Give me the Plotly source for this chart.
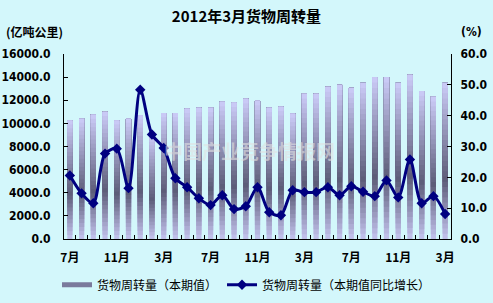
import plotly.graph_objects as go

# ---- data ----
months = ["2009-07", "2009-08", "2009-09", "2009-10", "2009-11", "2009-12",
          "2010-01", "2010-02", "2010-03", "2010-04", "2010-05", "2010-06",
          "2010-07", "2010-08", "2010-09", "2010-10", "2010-11", "2010-12",
          "2011-01", "2011-02", "2011-03", "2011-04", "2011-05", "2011-06",
          "2011-07", "2011-08", "2011-09", "2011-10", "2011-11", "2011-12",
          "2012-01", "2012-02", "2012-03"]
tick_labels = {"2009-07": "7月", "2009-11": "11月", "2010-03": "3月",
               "2010-07": "7月", "2010-11": "11月", "2011-03": "3月",
               "2011-07": "7月", "2011-11": "11月", "2012-03": "3月"}
turnover = [10250, 10400, 10750, 11000, 10250, 10400, 10700, 9000, 10900,
            10900, 11270, 11350, 11350, 11870, 11800, 12130, 11960, 11350,
            11440, 10840, 12560, 12560, 13160, 13330, 13070, 13500, 14000,
            14000, 13500, 14200, 12800, 12300, 13500]
growth = [20.6, 14.8, 11.6, 27.7, 29.3, 16.5, 48.4, 33.9, 29.5, 19.7, 16.8,
          13.2, 11.0, 14.2, 9.7, 10.6, 16.8, 8.7, 7.7, 15.8, 15.2, 15.2, 16.8,
          14.2, 17.1, 15.3, 13.9, 19.0, 13.5, 25.8, 11.6, 13.9, 8.1]

title = "2012年3月货物周转量"
bar_name = "货物周转量（本期值）"
line_name = "货物周转量（本期值同比增长）"

# ---- gradient for bars ----
stops = [(0.0, (196, 196, 238)), (0.38, (92, 92, 120)), (1.0, (204, 204, 248))]

def grad(t):
    for (t0, c0), (t1, c1) in zip(stops[:-1], stops[1:]):
        if t0 <= t <= t1:
            f = (t - t0) / (t1 - t0)
            return "rgb(%d,%d,%d)" % tuple(round(a + (b - a) * f) for a, b in zip(c0, c1))
    return "rgb(%d,%d,%d)" % stops[-1][1]

fig = go.Figure()
N = 30
for k in range(N):
    # each segment reaches the bar top, later ones overlay earlier ones -> no seams
    fig.add_trace(go.Bar(
        x=months, y=[v * (1 - k / N) for v in turnover], base=[v * k / N for v in turnover],
        marker=dict(color=grad((k + 0.5) / N), line=dict(width=0)),
        width=0.44, showlegend=False, hoverinfo="skip"))

# legend proxy for bars
fig.add_trace(go.Scatter(x=[None], y=[None], mode="lines", name=bar_name,
                         line=dict(color="#7a7a9c", width=5)))

fig.add_trace(go.Scatter(
    x=months, y=growth, yaxis="y2", name=line_name, mode="lines+markers",
    line=dict(color="#000080", width=3, shape="spline", smoothing=0.8),
    marker=dict(symbol="diamond", size=8, color="#000080")))

tick_font = dict(family="DejaVu Sans Condensed, Liberation Sans Narrow, Arial",
                 size=12, color="black", weight="bold")

fig.update_layout(
    width=493, height=303,
    margin=dict(l=64, r=42, t=54, b=64, autoexpand=False),
    paper_bgcolor="#d3f7fb", plot_bgcolor="rgba(0,0,0,0)",
    barmode="overlay", bargap=0.5,
    title=dict(text=title, x=0.5, xanchor="center", y=0.945, yanchor="middle",
               font=dict(family="Noto Sans CJK SC", size=15, color="black", weight="bold")),
    xaxis=dict(type="category", categoryorder="array", categoryarray=months,
               tickvals=months, ticktext=[tick_labels.get(m, "") for m in months],
               tickangle=0, automargin=False, ticklabelstandoff=8,
               tickson="boundaries", ticks="inside", ticklen=4, tickcolor="black",
               showline=True, linecolor="black", linewidth=1, showgrid=False,
               tickfont=dict(family="Noto Sans CJK SC", size=12, color="black", weight="bold"),
               range=[-0.5, len(months) - 0.5]),
    yaxis=dict(range=[0, 16000], dtick=2000, tickformat=".1f", showgrid=False,
               ticks="inside", ticklen=4, tickcolor="black", automargin=False,
               showline=True, linecolor="black", linewidth=1, zeroline=False,
               tickfont=tick_font, ticklabelstandoff=10),
    yaxis2=dict(range=[0, 60], dtick=10, tickformat=".1f", overlaying="y", side="right",
                showgrid=False, ticks="inside", ticklen=4, tickcolor="black", automargin=False,
                showline=True, linecolor="black", linewidth=1, zeroline=False,
                tickfont=tick_font, ticklabelstandoff=6),
    legend=dict(orientation="h", xref="container", x=0.5, xanchor="center",
                yref="container", y=0.06, yanchor="middle",
                bgcolor="rgba(0,0,0,0)", itemwidth=30, tracegroupgap=0,
                font=dict(family="Noto Sans CJK SC", size=12, color="black")),
    annotations=[
        dict(text="(亿吨公里)", xref="paper", yref="paper", x=-0.155, y=1.12,
             xanchor="left", yanchor="middle", showarrow=False,
             font=dict(family="Noto Sans CJK SC", size=12, color="black", weight="bold")),
        dict(text="(%)", xref="paper", yref="paper", x=1.02, y=1.12,
             xanchor="left", yanchor="middle", showarrow=False,
             font=dict(family="DejaVu Sans Condensed", size=12,
                       color="black", weight="bold")),
        dict(text="中国产业竞争情报网", xref="paper", yref="paper", x=0.48, y=0.48,
             xanchor="center", yanchor="middle", showarrow=False,
             font=dict(family="Noto Sans CJK SC", size=19, color="rgba(225,225,225,0.6)",
                       weight="bold")),
    ],
)

fig.write_html("out.html")
